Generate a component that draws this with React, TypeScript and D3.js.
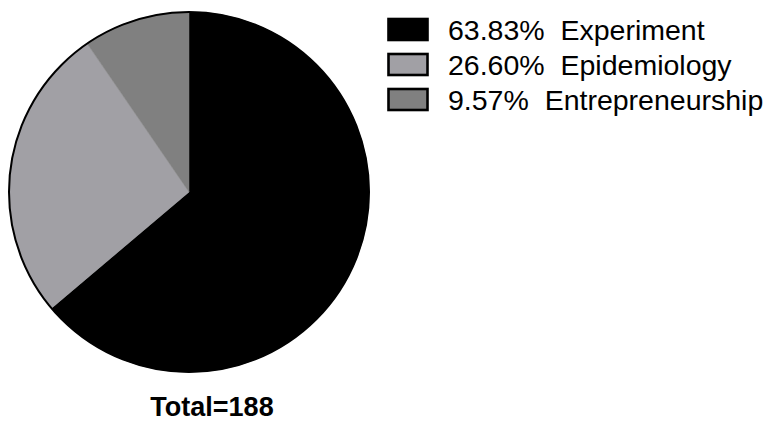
import React from "react";
import * as d3 from "d3";

const categories = ["Experiment", "Epidemiology", "Entrepreneurship"];
const percents = [63.83, 26.6, 9.57];
const percentLabels = ["63.83%", "26.60%", "9.57%"];
const colors = ["#000000", "#a1a0a5", "#808080"];
const totalLabel = "Total=188";

export default function App() {
  const W = 767, H = 421;
  const cx = 189, cy = 192, r = 180;
  const pie = d3.pie<number>().sort(null).value((d) => d)(percents);
  const arc = d3.arc<d3.PieArcDatum<number>>().innerRadius(0).outerRadius(r);
  const legendY = d3.scaleLinear().domain([0, 1]).range([40, 75]);
  return (
    <svg width={W} height={H} style={{ position: "absolute", left: 0, top: 0, background: "#fff" }}
      fontFamily="'Liberation Sans', Arial, sans-serif">
      <g transform={`translate(${cx},${cy})`}>
        {pie.map((p, i) => (
          <path key={i} d={arc(p) || ""} fill={colors[i]} stroke={colors[i]} strokeWidth={0.5} />
        ))}
        <circle r={r} fill="none" stroke="#000" strokeWidth={2} />
      </g>
      {categories.map((c, i) => {
        const base = legendY(i);
        return (
          <g key={c}>
            <rect x={388.5} y={base - 21} width={39} height={21} fill={colors[i]} stroke="#000" strokeWidth={2.6} />
            <text x={448} y={base} fontSize={28.5} fill="#000" xmlSpace="preserve">
              {percentLabels[i] + "  " + c}
            </text>
          </g>
        );
      })}
      <text x={212} y={416} fontSize={27} fontWeight="bold" textAnchor="middle" fill="#000">{totalLabel}</text>
    </svg>
  );
}
